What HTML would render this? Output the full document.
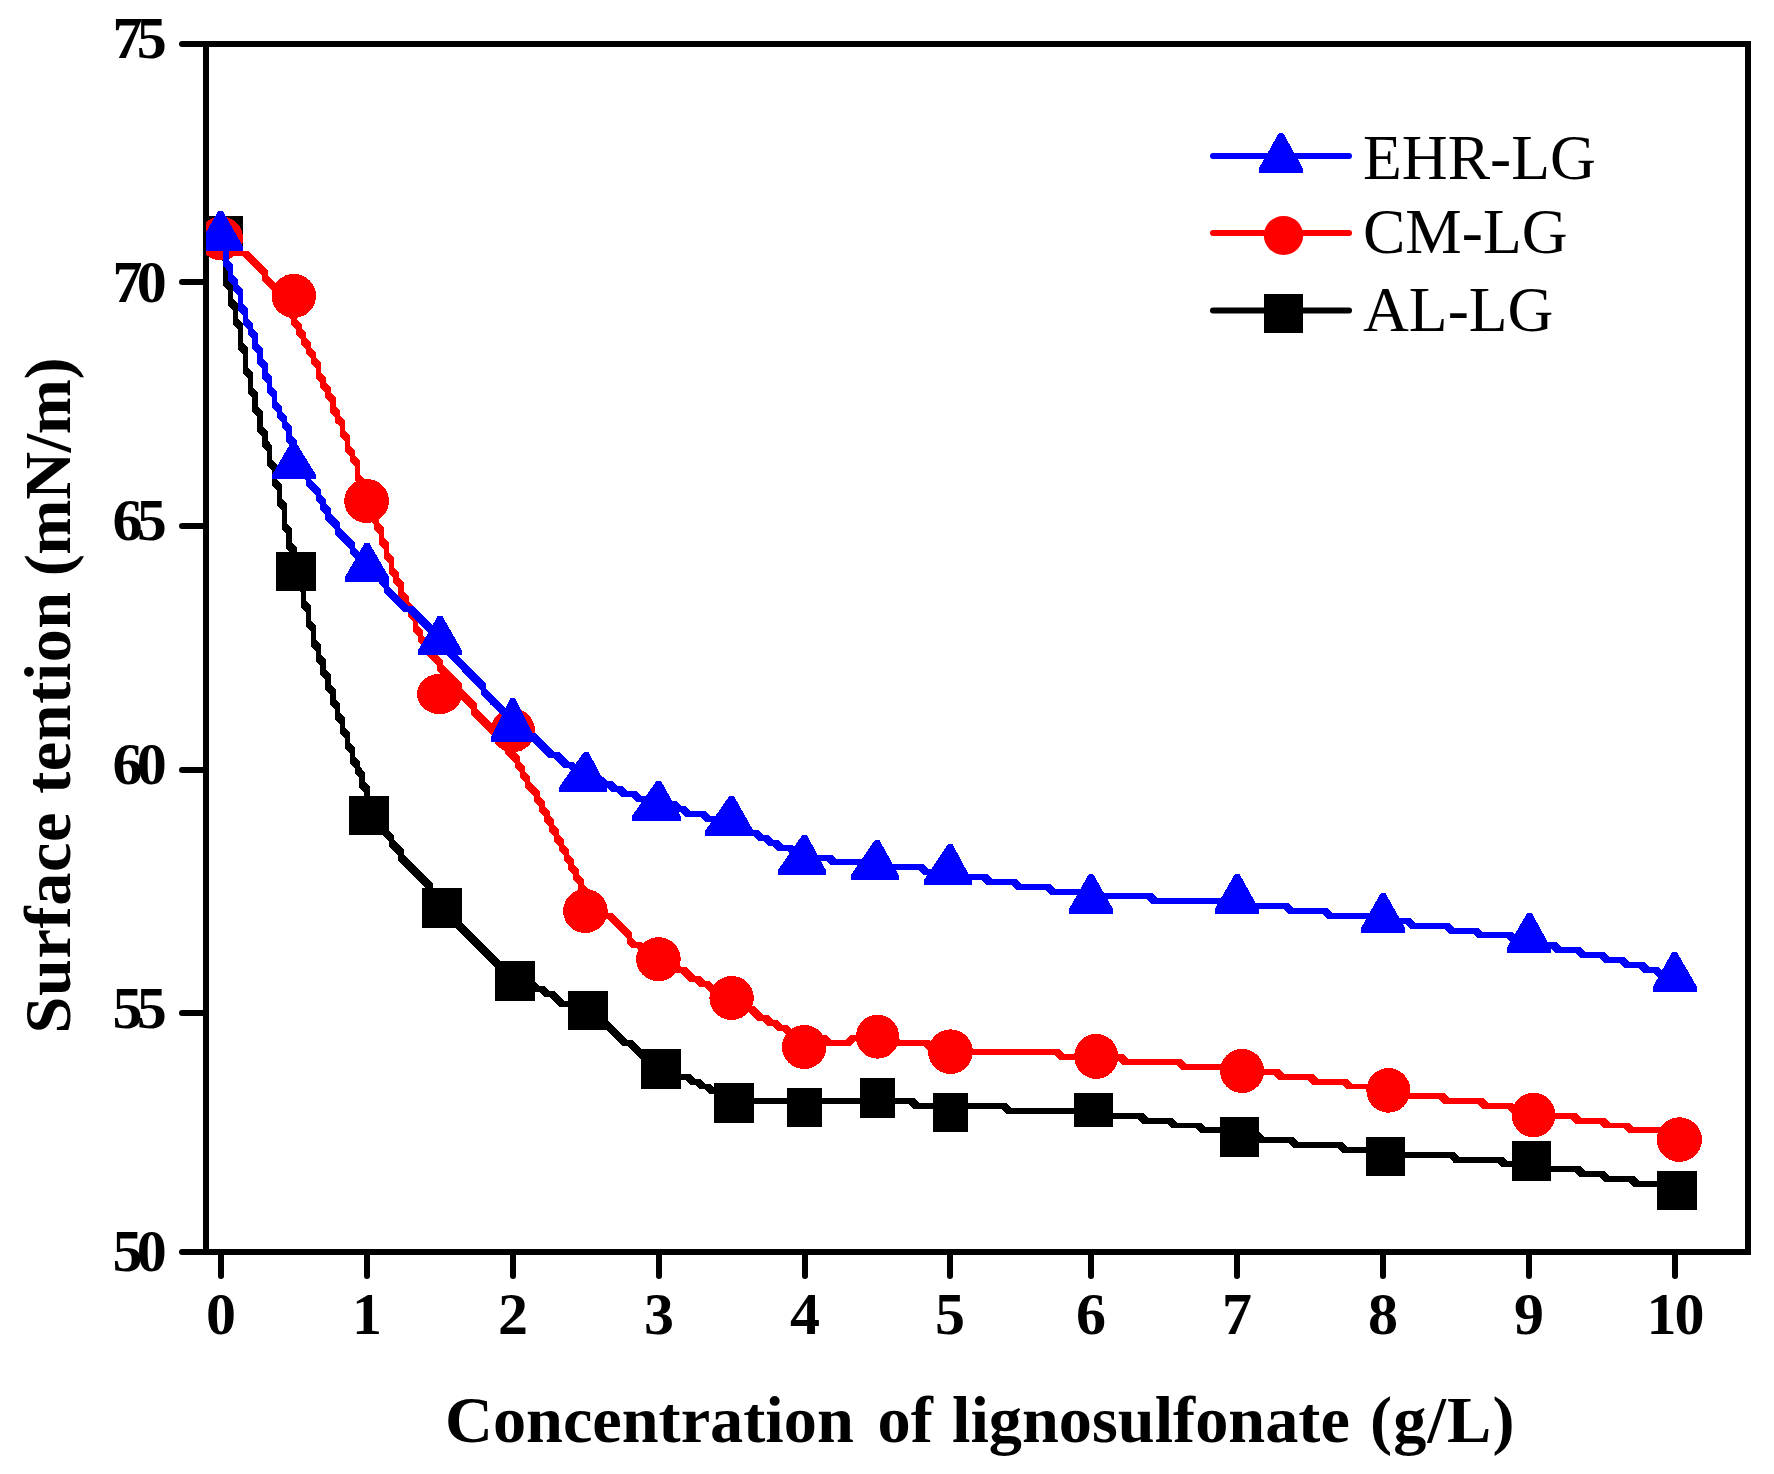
<!DOCTYPE html>
<html lang="en"><head><meta charset="utf-8"><title>Surface tension vs lignosulfonate concentration</title>
<style>
html,body{margin:0;padding:0;background:#fff;}
body{width:1774px;height:1474px;overflow:hidden;}
svg{display:block;}
text{font-family:"Liberation Serif",serif;fill:#000;}
.tk{font-weight:bold;font-size:60px;}
.ti{font-weight:bold;font-size:66.3px;}
.lg{font-size:63.5px;}
</style></head><body>
<svg width="1774" height="1474" viewBox="0 0 1774 1474">
<rect width="1774" height="1474" fill="#fff"/>
<defs><clipPath id="cp"><rect x="206" y="44" width="1542" height="1208"/></clipPath></defs>
<g shape-rendering="crispEdges" fill="#000">
<rect x="203" y="41" width="1548" height="6"/>
<rect x="203" y="1249" width="1548" height="6"/>
<rect x="203" y="41" width="6" height="1214"/>
<rect x="1745" y="41" width="6" height="1214"/>
</g>
<g stroke="#000" stroke-width="6" stroke-linecap="round">
<line x1="182" y1="44" x2="206" y2="44"/>
<line x1="182" y1="282" x2="206" y2="282"/>
<line x1="182" y1="526" x2="206" y2="526"/>
<line x1="182" y1="770" x2="206" y2="770"/>
<line x1="182" y1="1013" x2="206" y2="1013"/>
<line x1="182" y1="1252" x2="206" y2="1252"/>
<line x1="221" y1="1252" x2="221" y2="1276"/>
<line x1="367" y1="1252" x2="367" y2="1276"/>
<line x1="513" y1="1252" x2="513" y2="1276"/>
<line x1="659" y1="1252" x2="659" y2="1276"/>
<line x1="805" y1="1252" x2="805" y2="1276"/>
<line x1="950" y1="1252" x2="950" y2="1276"/>
<line x1="1091" y1="1252" x2="1091" y2="1276"/>
<line x1="1237" y1="1252" x2="1237" y2="1276"/>
<line x1="1383" y1="1252" x2="1383" y2="1276"/>
<line x1="1529" y1="1252" x2="1529" y2="1276"/>
<line x1="1675" y1="1252" x2="1675" y2="1276"/>
</g>
<g class="tk" text-anchor="end" letter-spacing="-5.8">
<text x="161" y="58.0">75</text>
<text x="161" y="301.5">70</text>
<text x="161" y="539.5">65</text>
<text x="161" y="783.5">60</text>
<text x="161" y="1027.5">55</text>
<text x="161" y="1271.0">50</text>
</g>
<g class="tk" text-anchor="middle">
<text x="221.0" y="1333.5">0</text>
<text x="367.0" y="1333.5">1</text>
<text x="513.0" y="1333.5">2</text>
<text x="659.0" y="1333.5">3</text>
<text x="805.0" y="1333.5">4</text>
<text x="950.0" y="1333.5">5</text>
<text x="1091.0" y="1333.5">6</text>
<text x="1237.0" y="1333.5">7</text>
<text x="1383.0" y="1333.5">8</text>
<text x="1529.0" y="1333.5">9</text>
<text x="1674.5" y="1333.5" letter-spacing="-2">10</text>
</g>
<text class="ti" y="1442"><tspan x="445" letter-spacing="0">Concentration</tspan> <tspan x="877.5" letter-spacing="0">of</tspan> <tspan x="952" letter-spacing="0">lignosulfonate</tspan> <tspan x="1370" letter-spacing="1.15">(g/L)</tspan></text>
<text class="ti" transform="translate(70.3 1033.5) rotate(-90)"><tspan x="0" letter-spacing="0.6">Surface</tspan> <tspan x="239.8" letter-spacing="0.5">tention</tspan> <tspan x="457.2" letter-spacing="-0.4">(mN/m)</tspan></text>
<g clip-path="url(#cp)" shape-rendering="crispEdges">
<path d="M218.3 235.9L223.7 235.9L223.7 256.4L218.3 256.4ZM218.3 250.6L223.7 250.6L228.6 255.4L228.6 261.2L223.2 261.2L218.3 256.4ZM223.2 255.4L228.6 255.4L228.6 285.6L223.2 285.6ZM223.2 279.8L228.6 279.8L233.4 284.7L233.4 290.6L228 290.6L223.2 285.6ZM228 284.7L233.4 284.7L233.4 305.1L228 305.1ZM228 299.2L233.4 299.2L238.3 304.1L238.3 309.9L232.9 309.9L228 305.1ZM232.9 304.1L238.3 304.1L238.3 324.6L232.9 324.6ZM232.9 318.7L238.3 318.7L243.2 323.6L243.2 329.4L237.8 329.4L232.9 324.6ZM237.8 323.6L243.2 323.6L243.2 348.9L237.8 348.9ZM237.8 343.1L243.2 343.1L248 347.9L248 353.8L242.6 353.8L237.8 348.9ZM242.6 347.9L248 347.9L248 373.3L242.6 373.3ZM242.6 367.4L248 367.4L252.9 372.2L252.9 378.1L247.5 378.1L242.6 373.3ZM247.5 372.2L252.9 372.2L252.9 392.8L247.5 392.8ZM247.5 386.9L252.9 386.9L257.7 391.8L257.7 397.6L252.3 397.6L247.5 392.8ZM252.3 391.8L257.7 391.8L257.7 412.2L252.3 412.2ZM252.3 406.4L257.7 406.4L262.6 411.2L262.6 417.1L257.2 417.1L252.3 412.2ZM257.2 411.2L262.6 411.2L262.6 431.8L257.2 431.8ZM257.2 425.9L262.6 425.9L267.5 430.8L267.5 436.6L262.1 436.6L257.2 431.8ZM262.1 430.8L267.5 430.8L267.5 446.3L262.1 446.3ZM262.1 440.4L267.5 440.4L272.3 445.4L272.3 451.2L266.9 451.2L262.1 446.3ZM266.9 445.4L272.3 445.4L272.3 465.8L266.9 465.8ZM266.9 459.9L272.3 459.9L277.2 464.9L277.2 470.8L271.8 470.8L266.9 465.8ZM271.8 464.9L277.2 464.9L277.2 485.3L271.8 485.3ZM271.8 479.4L277.2 479.4L282.1 484.4L282.1 490.2L276.7 490.2L271.8 485.3ZM276.7 484.4L282.1 484.4L282.1 504.8L276.7 504.8ZM276.7 498.9L282.1 498.9L286.9 503.8L286.9 509.6L281.5 509.6L276.7 504.8ZM281.5 503.8L286.9 503.8L286.9 529.2L281.5 529.2ZM281.5 523.2L286.9 523.2L291.8 528.1L291.8 534.1L286.4 534.1L281.5 529.2ZM286.4 528.1L291.8 528.1L291.8 548.7L286.4 548.7ZM286.4 542.8L291.8 542.8L296.6 547.6L296.6 553.6L291.2 553.6L286.4 548.7ZM291.2 547.6L296.6 547.6L296.6 573.1L291.2 573.1ZM291.2 567.1L296.6 567.1L301.5 571.9L301.5 577.9L296.1 577.9L291.2 573.1ZM296.1 571.9L301.5 571.9L301.5 587.7L296.1 587.7ZM296.1 581.8L301.5 581.8L306.4 586.6L306.4 592.6L301 592.6L296.1 587.7ZM301 586.6L306.4 586.6L306.4 607.2L301 607.2ZM301 601.2L306.4 601.2L311.2 606L311.2 612L305.8 612L301 607.2ZM305.8 606L311.2 606L311.2 626.6L305.8 626.6ZM305.8 620.6L311.2 620.6L316.1 625.5L316.1 631.5L310.7 631.5L305.8 626.6ZM310.7 625.5L316.1 625.5L316.1 646.1L310.7 646.1ZM310.7 640.1L316.1 640.1L321 645L321 651L315.6 651L310.7 646.1ZM315.6 645L321 645L321 660.7L315.6 660.7ZM315.6 654.8L321 654.8L325.8 659.6L325.8 665.6L320.4 665.6L315.6 660.7ZM320.4 659.6L325.8 659.6L325.8 675.4L320.4 675.4ZM320.4 669.4L325.8 669.4L330.7 674.2L330.7 680.2L325.3 680.2L320.4 675.4ZM325.3 674.2L330.7 674.2L330.7 690L325.3 690ZM325.3 684L330.7 684L335.5 688.8L335.5 694.8L330.1 694.8L325.3 690ZM330.1 688.8L335.5 688.8L335.5 704.6L330.1 704.6ZM330.1 698.6L335.5 698.6L340.4 703.5L340.4 709.5L335 709.5L330.1 704.6ZM335 703.5L340.4 703.5L340.4 719.2L335 719.2ZM335 713.2L340.4 713.2L345.3 718.1L345.3 724.1L339.9 724.1L335 719.2ZM339.9 718.1L345.3 718.1L345.3 733.8L339.9 733.8ZM339.9 727.8L345.3 727.8L350.1 732.8L350.1 738.7L344.7 738.7L339.9 733.8ZM344.7 732.8L350.1 732.8L350.1 748.4L344.7 748.4ZM344.7 742.4L350.1 742.4L355 747.3L355 753.2L349.6 753.2L344.7 748.4ZM349.6 747.3L355 747.3L355 763L349.6 763ZM349.6 757L355 757L359.9 761.9L359.9 767.9L354.5 767.9L349.6 763ZM354.5 761.9L359.9 761.9L359.9 772.8L354.5 772.8ZM354.5 766.8L359.9 766.8L364.7 771.8L364.7 777.7L359.3 777.7L354.5 772.8ZM359.3 771.8L364.7 771.8L364.7 787.4L359.3 787.4ZM359.3 781.4L364.7 781.4L369.6 786.3L369.6 792.2L364.2 792.2L359.3 787.4ZM364.2 786.3L369.6 786.3L369.6 802L364.2 802ZM364.2 796L369.6 796L374.5 800.9L374.5 806.9L369.1 806.9L364.2 802ZM369.1 800.9L374.5 800.9L374.5 816.6L369.1 816.6ZM369.1 810.6L374.5 810.6L379.3 815.5L379.3 821.5L373.9 821.5L369.1 816.6ZM373.9 815.5L379.3 815.5L379.3 826.4L373.9 826.4ZM373.9 820.4L379.3 820.4L384.2 825.2L384.2 831.2L378.8 831.2L373.9 826.4ZM378.8 825.2L384.2 825.2L389 830.1L389 836.1L383.6 836.1L378.8 831.2ZM383.6 830.1L389 830.1L393.9 835L393.9 841L388.5 841L383.6 836.1ZM388.5 835L393.9 835L393.9 845.8L388.5 845.8ZM388.5 839.8L393.9 839.8L398.8 844.8L398.8 850.7L393.4 850.7L388.5 845.8ZM393.4 844.8L398.8 844.8L403.6 849.6L403.6 855.6L398.2 855.6L393.4 850.7ZM398.2 849.6L403.6 849.6L403.6 860.5L398.2 860.5ZM398.2 854.5L403.6 854.5L408.5 859.3L408.5 865.2L403.1 865.2L398.2 860.5ZM403.1 859.3L408.5 859.3L413.4 864.2L413.4 870.2L408 870.2L403.1 865.2ZM408 864.2L413.4 864.2L418.2 869.1L418.2 875.1L412.8 875.1L408 870.2ZM412.8 869.1L418.2 869.1L423.1 873.9L423.1 879.9L417.7 879.9L412.8 875.1ZM417.7 873.9L423.1 873.9L427.9 878.8L427.9 884.8L422.5 884.8L417.7 879.9ZM422.5 878.8L427.9 878.8L432.8 883.8L432.8 889.7L427.4 889.7L422.5 884.8ZM427.4 883.8L432.8 883.8L432.8 894.6L427.4 894.6ZM427.4 888.6L432.8 888.6L437.7 893.4L437.7 899.4L432.3 899.4L427.4 894.6ZM432.3 893.4L437.7 893.4L437.7 904.2L432.3 904.2ZM432.3 898.3L437.7 898.3L442.5 903.2L442.5 909.2L437.1 909.2L432.3 904.2ZM437.1 903.2L442.5 903.2L447.4 908L447.4 914L442 914L437.1 909.2ZM442 908L447.4 908L452.3 912.9L452.3 918.9L446.9 918.9L442 914ZM446.9 912.9L452.3 912.9L457.1 917.8L457.1 923.8L451.7 923.8L446.9 918.9ZM451.7 917.8L457.1 917.8L462 922.8L462 928.7L456.6 928.7L451.7 923.8ZM456.6 922.8L462 922.8L466.9 927.5L466.9 933.5L461.5 933.5L456.6 928.7ZM461.5 927.5L466.9 927.5L471.7 932.4L471.7 938.4L466.3 938.4L461.5 933.5ZM466.3 932.4L471.7 932.4L505.8 966.5L505.8 972.5L500.4 972.5L466.3 938.4ZM500.4 966.5L505.8 966.5L510.6 971.4L510.6 977.4L505.2 977.4L500.4 972.5ZM505.2 971.4L510.6 971.4L515.5 976.2L515.5 982.2L510.1 982.2L505.2 977.4ZM510.1 976.2L520.3 976.2L520.3 982.2L510.1 982.2ZM514.9 976.2L520.3 976.2L525.2 981.1L525.2 987.1L519.8 987.1L514.9 982.2ZM519.8 981.1L534.9 981.1L534.9 987.1L519.8 987.1ZM529.5 981.1L534.9 981.1L539.8 986L539.8 992L534.4 992L529.5 987.1ZM534.4 986L544.7 986L544.7 992L534.4 992ZM539.3 986L544.7 986L549.5 990.8L549.5 996.8L544.1 996.8L539.3 992ZM544.1 990.8L554.4 990.8L554.4 996.8L544.1 996.8ZM549 990.8L554.4 990.8L559.2 995.8L559.2 1001.7L553.8 1001.7L549 996.8ZM553.8 995.8L559.2 995.8L564.1 1000.6L564.1 1006.6L558.7 1006.6L553.8 1001.7ZM558.7 1000.6L573.8 1000.6L573.8 1006.6L558.7 1006.6ZM568.4 1000.6L573.8 1000.6L578.7 1005.5L578.7 1011.5L573.3 1011.5L568.4 1006.6ZM573.3 1005.5L588.4 1005.5L588.4 1011.5L573.3 1011.5ZM583 1005.5L588.4 1005.5L593.3 1010.3L593.3 1016.2L587.9 1016.2L583 1011.5ZM587.9 1010.3L593.3 1010.3L598.2 1015.2L598.2 1021.2L592.8 1021.2L587.9 1016.2ZM592.8 1015.2L598.2 1015.2L603 1020.1L603 1026L597.6 1026L592.8 1021.2ZM597.6 1020.1L607.9 1020.1L607.9 1026L597.6 1026ZM602.5 1020.1L607.9 1020.1L622.5 1034.8L622.5 1040.7L617.1 1040.7L602.5 1026ZM617.1 1034.8L622.5 1034.8L627.3 1039.6L627.3 1045.5L621.9 1045.5L617.1 1040.7ZM621.9 1039.6L632.2 1039.6L632.2 1045.5L621.9 1045.5ZM626.8 1039.6L632.2 1039.6L637.1 1044.5L637.1 1050.4L631.7 1050.4L626.8 1045.5ZM631.7 1044.5L637.1 1044.5L641.9 1049.3L641.9 1055.2L636.5 1055.2L631.7 1050.4ZM636.5 1049.3L641.9 1049.3L646.8 1054.2L646.8 1060.2L641.4 1060.2L636.5 1055.2ZM641.4 1054.2L651.6 1054.2L651.6 1060.2L641.4 1060.2ZM646.2 1054.2L651.6 1054.2L656.5 1059L656.5 1065L651.1 1065L646.2 1060.2ZM651.1 1059L656.5 1059L661.4 1064L661.4 1069.9L656 1069.9L651.1 1065ZM656 1064L661.4 1064L666.2 1068.8L666.2 1074.8L660.8 1074.8L656 1069.9ZM660.8 1068.8L676 1068.8L676 1074.8L660.8 1074.8ZM670.6 1068.8L676 1068.8L680.8 1073.8L680.8 1079.7L675.4 1079.7L670.6 1074.8ZM675.4 1073.8L690.5 1073.8L690.5 1079.7L675.4 1079.7ZM685.1 1073.8L690.5 1073.8L695.4 1078.5L695.4 1084.5L690 1084.5L685.1 1079.7ZM690 1078.5L700.3 1078.5L700.3 1084.5L690 1084.5ZM694.9 1078.5L700.3 1078.5L705.1 1083.5L705.1 1089.4L699.7 1089.4L694.9 1084.5ZM699.7 1083.5L710 1083.5L710 1089.4L699.7 1089.4ZM704.6 1083.5L710 1083.5L714.9 1088.3L714.9 1094.2L709.5 1094.2L704.6 1089.4ZM709.5 1088.3L719.7 1088.3L719.7 1094.2L709.5 1094.2ZM714.3 1088.3L719.7 1088.3L724.6 1093.1L724.6 1099L719.2 1099L714.3 1094.2ZM719.2 1093.1L734.3 1093.1L734.3 1099L719.2 1099ZM728.9 1093.1L734.3 1093.1L739.2 1098L739.2 1104L733.8 1104L728.9 1099ZM733.8 1098L914.2 1098L914.2 1104L733.8 1104ZM908.8 1098L914.2 1098L919.1 1103L919.1 1108.9L913.7 1108.9L908.8 1104ZM913.7 1103L1006.6 1103L1006.6 1108.9L913.7 1108.9ZM1001.2 1103L1006.6 1103L1011.5 1107.8L1011.5 1113.7L1006.1 1113.7L1001.2 1108.9ZM1006.1 1107.8L1103.9 1107.8L1103.9 1113.7L1006.1 1113.7ZM1098.5 1107.8L1103.9 1107.8L1108.8 1112.6L1108.8 1118.5L1103.4 1118.5L1098.5 1113.7ZM1103.4 1112.6L1142.8 1112.6L1142.8 1118.5L1103.4 1118.5ZM1137.4 1112.6L1142.8 1112.6L1147.7 1117.5L1147.7 1123.5L1142.3 1123.5L1137.4 1118.5ZM1142.3 1117.5L1172 1117.5L1172 1123.5L1142.3 1123.5ZM1166.6 1117.5L1172 1117.5L1176.8 1122.5L1176.8 1128.4L1171.4 1128.4L1166.6 1123.5ZM1171.4 1122.5L1201.2 1122.5L1201.2 1128.4L1171.4 1128.4ZM1195.8 1122.5L1201.2 1122.5L1206 1127.2L1206 1133.2L1200.6 1133.2L1195.8 1128.4ZM1200.6 1127.2L1225.5 1127.2L1225.5 1133.2L1200.6 1133.2ZM1220.1 1127.2L1225.5 1127.2L1230.3 1132.1L1230.3 1138L1224.9 1138L1220.1 1133.2ZM1224.9 1132.1L1259.5 1132.1L1259.5 1138L1224.9 1138ZM1254.1 1132.1L1259.5 1132.1L1264.4 1137L1264.4 1143L1259 1143L1254.1 1138ZM1259 1137L1293.6 1137L1293.6 1143L1259 1143ZM1288.2 1137L1293.6 1137L1298.4 1141.8L1298.4 1147.8L1293 1147.8L1288.2 1143ZM1293 1141.8L1342.2 1141.8L1342.2 1147.8L1293 1147.8ZM1336.8 1141.8L1342.2 1141.8L1347.1 1146.8L1347.1 1152.7L1341.7 1152.7L1336.8 1147.8ZM1341.7 1146.8L1390.8 1146.8L1390.8 1152.7L1341.7 1152.7ZM1385.4 1146.8L1390.8 1146.8L1395.7 1151.6L1395.7 1157.5L1390.3 1157.5L1385.4 1152.7ZM1390.3 1151.6L1454 1151.6L1454 1157.5L1390.3 1157.5ZM1448.6 1151.6L1454 1151.6L1458.9 1156.5L1458.9 1162.5L1453.5 1162.5L1448.6 1157.5ZM1453.5 1156.5L1502.7 1156.5L1502.7 1162.5L1453.5 1162.5ZM1497.3 1156.5L1502.7 1156.5L1507.5 1161.3L1507.5 1167.2L1502.1 1167.2L1497.3 1162.5ZM1502.1 1161.3L1531.8 1161.3L1531.8 1167.2L1502.1 1167.2ZM1526.4 1161.3L1531.8 1161.3L1536.7 1166.2L1536.7 1172.2L1531.3 1172.2L1526.4 1167.2ZM1531.3 1166.2L1580.5 1166.2L1580.5 1172.2L1531.3 1172.2ZM1575.1 1166.2L1580.5 1166.2L1585.3 1171.1L1585.3 1177L1579.9 1177L1575.1 1172.2ZM1579.9 1171.1L1604.8 1171.1L1604.8 1177L1579.9 1177ZM1599.4 1171.1L1604.8 1171.1L1609.7 1176L1609.7 1181.9L1604.3 1181.9L1599.4 1177ZM1604.3 1176L1634 1176L1634 1181.9L1604.3 1181.9ZM1628.6 1176L1634 1176L1638.8 1180.8L1638.8 1186.8L1633.4 1186.8L1628.6 1181.9ZM1633.4 1180.8L1663.1 1180.8L1663.1 1186.8L1633.4 1186.8ZM1657.7 1180.8L1663.1 1180.8L1668 1185.8L1668 1191.7L1662.6 1191.7L1657.7 1186.8ZM1662.6 1185.8L1677.7 1185.8L1677.7 1191.7L1662.6 1191.7Z" fill="#000"/>
<g fill="#000" shape-rendering="crispEdges">
<rect x="203" y="216" width="40" height="40"/>
<rect x="276" y="552" width="40" height="39"/>
<rect x="349" y="796" width="40" height="39"/>
<rect x="422" y="888" width="40" height="40"/>
<rect x="495" y="961" width="40" height="40"/>
<rect x="568" y="991" width="40" height="39"/>
<rect x="641" y="1049" width="40" height="40"/>
<rect x="714" y="1083" width="40" height="40"/>
<rect x="787" y="1088" width="35" height="39"/>
<rect x="860" y="1078" width="35" height="40"/>
<rect x="933" y="1093" width="35" height="39"/>
<rect x="1074" y="1093" width="39" height="34"/>
<rect x="1220" y="1117" width="39" height="40"/>
<rect x="1366" y="1137" width="39" height="39"/>
<rect x="1512" y="1141" width="39" height="40"/>
<rect x="1657" y="1171" width="40" height="39"/>
</g>
<path d="M218.3 235.9L223.7 235.9L228.6 240.8L228.6 246.6L223.2 246.6L218.3 241.8ZM223.2 240.8L228.6 240.8L233.4 245.7L233.4 251.5L228 251.5L223.2 246.6ZM228 245.7L233.4 245.7L238.3 250.6L238.3 256.4L232.9 256.4L228 251.5ZM232.9 250.6L248 250.6L248 256.4L232.9 256.4ZM242.6 250.6L248 250.6L252.9 255.4L252.9 261.2L247.5 261.2L242.6 256.4ZM247.5 255.4L252.9 255.4L257.7 260.2L257.7 266.1L252.3 266.1L247.5 261.2ZM252.3 260.2L257.7 260.2L262.6 265.2L262.6 271.1L257.2 271.1L252.3 266.1ZM257.2 265.2L262.6 265.2L267.5 269.9L267.5 275.8L262.1 275.8L257.2 271.1ZM262.1 269.9L267.5 269.9L267.5 280.8L262.1 280.8ZM262.1 274.9L267.5 274.9L272.3 279.8L272.3 285.6L266.9 285.6L262.1 280.8ZM266.9 279.8L272.3 279.8L282.1 289.4L282.1 295.3L276.7 295.3L266.9 285.6ZM276.7 289.4L282.1 289.4L286.9 294.4L286.9 300.2L281.5 300.2L276.7 295.3ZM281.5 294.4L286.9 294.4L291.8 299.2L291.8 305.1L286.4 305.1L281.5 300.2ZM286.4 299.2L291.8 299.2L291.8 314.8L286.4 314.8ZM286.4 308.9L291.8 308.9L296.6 313.9L296.6 319.8L291.2 319.8L286.4 314.8ZM291.2 313.9L296.6 313.9L296.6 324.6L291.2 324.6ZM291.2 318.7L296.6 318.7L301.5 323.6L301.5 329.4L296.1 329.4L291.2 324.6ZM296.1 323.6L301.5 323.6L301.5 334.3L296.1 334.3ZM296.1 328.4L301.5 328.4L306.4 333.4L306.4 339.2L301 339.2L296.1 334.3ZM301 333.4L306.4 333.4L306.4 344.1L301 344.1ZM301 338.2L306.4 338.2L311.2 343.1L311.2 348.9L305.8 348.9L301 344.1ZM305.8 343.1L311.2 343.1L311.2 353.8L305.8 353.8ZM305.8 347.9L311.2 347.9L316.1 352.8L316.1 358.6L310.7 358.6L305.8 353.8ZM310.7 352.8L316.1 352.8L316.1 363.6L310.7 363.6ZM310.7 357.7L316.1 357.7L321 362.6L321 368.4L315.6 368.4L310.7 363.6ZM315.6 362.6L321 362.6L321 378.1L315.6 378.1ZM315.6 372.2L321 372.2L325.8 377.2L325.8 383.1L320.4 383.1L315.6 378.1ZM320.4 377.2L325.8 377.2L325.8 387.9L320.4 387.9ZM320.4 382.1L325.8 382.1L330.7 386.9L330.7 392.8L325.3 392.8L320.4 387.9ZM325.3 386.9L330.7 386.9L330.7 397.6L325.3 397.6ZM325.3 391.8L330.7 391.8L335.5 396.7L335.5 402.6L330.1 402.6L325.3 397.6ZM330.1 396.7L335.5 396.7L335.5 412.2L330.1 412.2ZM330.1 406.4L335.5 406.4L340.4 411.2L340.4 417.1L335 417.1L330.1 412.2ZM335 411.2L340.4 411.2L340.4 422.1L335 422.1ZM335 416.2L340.4 416.2L345.3 420.9L345.3 426.8L339.9 426.8L335 422.1ZM339.9 420.9L345.3 420.9L345.3 436.6L339.9 436.6ZM339.9 430.8L345.3 430.8L350.1 435.7L350.1 441.6L344.7 441.6L339.9 436.6ZM344.7 435.7L350.1 435.7L350.1 451.2L344.7 451.2ZM344.7 445.4L350.1 445.4L355 450.2L355 456.1L349.6 456.1L344.7 451.2ZM349.6 450.2L355 450.2L355 460.9L349.6 460.9ZM349.6 455.1L355 455.1L359.9 459.9L359.9 465.8L354.5 465.8L349.6 460.9ZM354.5 459.9L359.9 459.9L359.9 480.4L354.5 480.4ZM354.5 474.6L359.9 474.6L364.7 479.4L364.7 485.3L359.3 485.3L354.5 480.4ZM359.3 479.4L364.7 479.4L364.7 495.1L359.3 495.1ZM359.3 489.2L364.7 489.2L369.6 494.1L369.6 499.9L364.2 499.9L359.3 495.1ZM364.2 494.1L369.6 494.1L369.6 509.6L364.2 509.6ZM364.2 503.8L369.6 503.8L374.5 508.7L374.5 514.6L369.1 514.6L364.2 509.6ZM369.1 508.7L374.5 508.7L374.5 519.5L369.1 519.5ZM369.1 513.5L374.5 513.5L379.3 518.4L379.3 524.4L373.9 524.4L369.1 519.5ZM373.9 518.4L379.3 518.4L379.3 529.2L373.9 529.2ZM373.9 523.2L379.3 523.2L384.2 528.1L384.2 534.1L378.8 534.1L373.9 529.2ZM378.8 528.1L384.2 528.1L384.2 543.8L378.8 543.8ZM378.8 537.8L384.2 537.8L389 542.8L389 548.7L383.6 548.7L378.8 543.8ZM383.6 542.8L389 542.8L389 558.5L383.6 558.5ZM383.6 552.5L389 552.5L393.9 557.3L393.9 563.2L388.5 563.2L383.6 558.5ZM388.5 557.3L393.9 557.3L393.9 573.1L388.5 573.1ZM388.5 567.1L393.9 567.1L398.8 571.9L398.8 577.9L393.4 577.9L388.5 573.1ZM393.4 571.9L398.8 571.9L398.8 582.8L393.4 582.8ZM393.4 576.8L398.8 576.8L403.6 581.8L403.6 587.7L398.2 587.7L393.4 582.8ZM398.2 581.8L403.6 581.8L403.6 597.4L398.2 597.4ZM398.2 591.4L403.6 591.4L408.5 596.3L408.5 602.2L403.1 602.2L398.2 597.4ZM403.1 596.3L408.5 596.3L408.5 607.2L403.1 607.2ZM403.1 601.2L408.5 601.2L413.4 606L413.4 612L408 612L403.1 607.2ZM408 606L413.4 606L413.4 616.9L408 616.9ZM408 610.9L413.4 610.9L418.2 615.8L418.2 621.8L412.8 621.8L408 616.9ZM412.8 615.8L418.2 615.8L418.2 631.5L412.8 631.5ZM412.8 625.5L418.2 625.5L423.1 630.4L423.1 636.4L417.7 636.4L412.8 631.5ZM417.7 630.4L423.1 630.4L423.1 641.2L417.7 641.2ZM417.7 635.3L423.1 635.3L432.8 645L432.8 651L427.4 651L417.7 641.2ZM427.4 645L432.8 645L432.8 655.9L427.4 655.9ZM427.4 649.9L432.8 649.9L437.7 654.8L437.7 660.7L432.3 660.7L427.4 655.9ZM432.3 654.8L437.7 654.8L442.5 659.6L442.5 665.6L437.1 665.6L432.3 660.7ZM437.1 659.6L442.5 659.6L442.5 670.5L437.1 670.5ZM437.1 664.5L442.5 664.5L447.4 669.4L447.4 675.4L442 675.4L437.1 670.5ZM442 669.4L447.4 669.4L452.3 674.2L452.3 680.2L446.9 680.2L442 675.4ZM446.9 674.2L452.3 674.2L457.1 679.1L457.1 685.1L451.7 685.1L446.9 680.2ZM451.7 679.1L457.1 679.1L462 684L462 690L456.6 690L451.7 685.1ZM456.6 684L462 684L462 694.8L456.6 694.8ZM456.6 688.8L462 688.8L466.9 693.8L466.9 699.7L461.5 699.7L456.6 694.8ZM461.5 693.8L466.9 693.8L471.7 698.6L471.7 704.6L466.3 704.6L461.5 699.7ZM466.3 698.6L471.7 698.6L476.6 703.5L476.6 709.5L471.2 709.5L466.3 704.6ZM471.2 703.5L476.6 703.5L476.6 714.2L471.2 714.2ZM471.2 708.3L476.6 708.3L481.4 713.2L481.4 719.2L476 719.2L471.2 714.2ZM476 713.2L481.4 713.2L486.3 718.1L486.3 724.1L480.9 724.1L476 719.2ZM480.9 718.1L486.3 718.1L491.2 722.9L491.2 728.9L485.8 728.9L480.9 724.1ZM485.8 722.9L491.2 722.9L496 727.8L496 733.8L490.6 733.8L485.8 728.9ZM490.6 727.8L496 727.8L510.6 742.4L510.6 748.4L505.2 748.4L490.6 733.8ZM505.2 742.4L510.6 742.4L510.6 753.2L505.2 753.2ZM505.2 747.3L510.6 747.3L520.3 757L520.3 763L514.9 763L505.2 753.2ZM514.9 757L520.3 757L520.3 767.9L514.9 767.9ZM514.9 761.9L520.3 761.9L525.2 766.8L525.2 772.8L519.8 772.8L514.9 767.9ZM519.8 766.8L525.2 766.8L525.2 777.7L519.8 777.7ZM519.8 771.8L525.2 771.8L530.1 776.5L530.1 782.5L524.7 782.5L519.8 777.7ZM524.7 776.5L530.1 776.5L530.1 787.4L524.7 787.4ZM524.7 781.4L530.1 781.4L534.9 786.3L534.9 792.2L529.5 792.2L524.7 787.4ZM529.5 786.3L534.9 786.3L539.8 791.1L539.8 797.1L534.4 797.1L529.5 792.2ZM534.4 791.1L539.8 791.1L539.8 802L534.4 802ZM534.4 796L539.8 796L544.7 800.9L544.7 806.9L539.3 806.9L534.4 802ZM539.3 800.9L544.7 800.9L544.7 811.7L539.3 811.7ZM539.3 805.8L544.7 805.8L549.5 810.6L549.5 816.6L544.1 816.6L539.3 811.7ZM544.1 810.6L549.5 810.6L549.5 821.5L544.1 821.5ZM544.1 815.5L549.5 815.5L554.4 820.4L554.4 826.4L549 826.4L544.1 821.5ZM549 820.4L554.4 820.4L554.4 831.2L549 831.2ZM549 825.2L554.4 825.2L559.2 830.1L559.2 836.1L553.8 836.1L549 831.2ZM553.8 830.1L559.2 830.1L559.2 841L553.8 841ZM553.8 835L559.2 835L564.1 839.8L564.1 845.8L558.7 845.8L553.8 841ZM558.7 839.8L564.1 839.8L564.1 850.7L558.7 850.7ZM558.7 844.8L564.1 844.8L569 849.6L569 855.6L563.6 855.6L558.7 850.7ZM563.6 849.6L569 849.6L569 860.5L563.6 860.5ZM563.6 854.5L569 854.5L573.8 859.3L573.8 865.2L568.4 865.2L563.6 860.5ZM568.4 859.3L573.8 859.3L573.8 870.2L568.4 870.2ZM568.4 864.2L573.8 864.2L578.7 869.1L578.7 875.1L573.3 875.1L568.4 870.2ZM573.3 869.1L578.7 869.1L578.7 879.9L573.3 879.9ZM573.3 873.9L578.7 873.9L583.6 878.8L583.6 884.8L578.2 884.8L573.3 879.9ZM578.2 878.8L583.6 878.8L583.6 889.7L578.2 889.7ZM578.2 883.8L583.6 883.8L588.4 888.6L588.4 894.6L583 894.6L578.2 889.7ZM583 888.6L588.4 888.6L588.4 899.4L583 899.4ZM583 893.4L588.4 893.4L607.9 912.9L607.9 918.9L602.5 918.9L583 899.4ZM602.5 912.9L612.7 912.9L612.7 918.9L602.5 918.9ZM607.3 912.9L612.7 912.9L632.2 932.4L632.2 938.4L626.8 938.4L607.3 918.9ZM626.8 932.4L632.2 932.4L632.2 943.2L626.8 943.2ZM626.8 937.3L632.2 937.3L637.1 942.1L637.1 948.1L631.7 948.1L626.8 943.2ZM631.7 942.1L641.9 942.1L641.9 948.1L631.7 948.1ZM636.5 942.1L641.9 942.1L646.8 947L646.8 953L641.4 953L636.5 948.1ZM641.4 947L646.8 947L651.6 951.9L651.6 957.9L646.2 957.9L641.4 953ZM646.2 951.9L656.5 951.9L656.5 957.9L646.2 957.9ZM651.1 951.9L656.5 951.9L661.4 956.8L661.4 962.7L656 962.7L651.1 957.9ZM656 956.8L666.2 956.8L666.2 962.7L656 962.7ZM660.8 956.8L666.2 956.8L671.1 961.6L671.1 967.6L665.7 967.6L660.8 962.7ZM665.7 961.6L676 961.6L676 967.6L665.7 967.6ZM670.6 961.6L676 961.6L680.8 966.5L680.8 972.5L675.4 972.5L670.6 967.6ZM675.4 966.5L685.7 966.5L685.7 972.5L675.4 972.5ZM680.3 966.5L685.7 966.5L690.5 971.4L690.5 977.4L685.1 977.4L680.3 972.5ZM685.1 971.4L690.5 971.4L695.4 976.2L695.4 982.2L690 982.2L685.1 977.4ZM690 976.2L700.3 976.2L700.3 982.2L690 982.2ZM694.9 976.2L700.3 976.2L705.1 981.1L705.1 987.1L699.7 987.1L694.9 982.2ZM699.7 981.1L710 981.1L710 987.1L699.7 987.1ZM704.6 981.1L710 981.1L714.9 986L714.9 992L709.5 992L704.6 987.1ZM709.5 986L719.7 986L719.7 992L709.5 992ZM714.3 986L719.7 986L724.6 990.8L724.6 996.8L719.2 996.8L714.3 992ZM719.2 990.8L724.6 990.8L729.5 995.8L729.5 1001.7L724.1 1001.7L719.2 996.8ZM724.1 995.8L734.3 995.8L734.3 1001.7L724.1 1001.7ZM728.9 995.8L734.3 995.8L739.2 1000.6L739.2 1006.6L733.8 1006.6L728.9 1001.7ZM733.8 1000.6L744 1000.6L744 1006.6L733.8 1006.6ZM738.6 1000.6L744 1000.6L748.9 1005.5L748.9 1011.5L743.5 1011.5L738.6 1006.6ZM743.5 1005.5L753.8 1005.5L753.8 1011.5L743.5 1011.5ZM748.4 1005.5L753.8 1005.5L763.5 1015.2L763.5 1021.2L758.1 1021.2L748.4 1011.5ZM758.1 1015.2L768.4 1015.2L768.4 1021.2L758.1 1021.2ZM763 1015.2L768.4 1015.2L773.2 1020.1L773.2 1026L767.8 1026L763 1021.2ZM767.8 1020.1L778.1 1020.1L778.1 1026L767.8 1026ZM772.7 1020.1L778.1 1020.1L782.9 1025L782.9 1030.9L777.5 1030.9L772.7 1026ZM777.5 1025L787.8 1025L787.8 1030.9L777.5 1030.9ZM782.4 1025L787.8 1025L792.7 1029.8L792.7 1035.8L787.3 1035.8L782.4 1030.9ZM787.3 1029.8L802.4 1029.8L802.4 1035.8L787.3 1035.8ZM797 1029.8L802.4 1029.8L807.3 1034.8L807.3 1040.7L801.9 1040.7L797 1035.8ZM801.9 1034.8L826.7 1034.8L826.7 1040.7L801.9 1040.7ZM821.3 1034.8L826.7 1034.8L831.6 1039.6L831.6 1045.5L826.2 1045.5L821.3 1040.7ZM826.2 1039.6L851 1039.6L851 1045.5L826.2 1045.5ZM845.6 1039.6L850.5 1034.8L855.9 1034.8L855.9 1040.7L851 1045.5L845.6 1045.5ZM850.5 1034.8L894.8 1034.8L894.8 1040.7L850.5 1040.7ZM889.4 1034.8L894.8 1034.8L899.7 1039.6L899.7 1045.5L894.3 1045.5L889.4 1040.7ZM894.3 1039.6L928.8 1039.6L928.8 1045.5L894.3 1045.5ZM923.4 1039.6L928.8 1039.6L933.7 1044.5L933.7 1050.4L928.3 1050.4L923.4 1045.5ZM928.3 1044.5L948.3 1044.5L948.3 1050.4L928.3 1050.4ZM942.9 1044.5L948.3 1044.5L953.2 1049.3L953.2 1055.2L947.8 1055.2L942.9 1050.4ZM947.8 1049.3L1060.1 1049.3L1060.1 1055.2L947.8 1055.2ZM1054.7 1049.3L1060.1 1049.3L1065 1054.2L1065 1060.2L1059.6 1060.2L1054.7 1055.2ZM1059.6 1054.2L1123.4 1054.2L1123.4 1060.2L1059.6 1060.2ZM1118 1054.2L1123.4 1054.2L1128.2 1059L1128.2 1065L1122.8 1065L1118 1060.2ZM1122.8 1059L1181.7 1059L1181.7 1065L1122.8 1065ZM1176.3 1059L1181.7 1059L1186.6 1064L1186.6 1069.9L1181.2 1069.9L1176.3 1065ZM1181.2 1064L1240.1 1064L1240.1 1069.9L1181.2 1069.9ZM1234.7 1064L1240.1 1064L1244.9 1068.8L1244.9 1074.8L1239.5 1074.8L1234.7 1069.9ZM1239.5 1068.8L1279 1068.8L1279 1074.8L1239.5 1074.8ZM1273.6 1068.8L1279 1068.8L1283.8 1073.8L1283.8 1079.7L1278.4 1079.7L1273.6 1074.8ZM1278.4 1073.8L1313 1073.8L1313 1079.7L1278.4 1079.7ZM1307.6 1073.8L1313 1073.8L1317.9 1078.5L1317.9 1084.5L1312.5 1084.5L1307.6 1079.7ZM1312.5 1078.5L1347.1 1078.5L1347.1 1084.5L1312.5 1084.5ZM1341.7 1078.5L1347.1 1078.5L1351.9 1083.5L1351.9 1089.4L1346.5 1089.4L1341.7 1084.5ZM1346.5 1083.5L1376.2 1083.5L1376.2 1089.4L1346.5 1089.4ZM1370.8 1083.5L1376.2 1083.5L1381.1 1088.3L1381.1 1094.2L1375.7 1094.2L1370.8 1089.4ZM1375.7 1088.3L1405.4 1088.3L1405.4 1094.2L1375.7 1094.2ZM1400 1088.3L1405.4 1088.3L1410.3 1093.1L1410.3 1099L1404.9 1099L1400 1094.2ZM1404.9 1093.1L1444.3 1093.1L1444.3 1099L1404.9 1099ZM1438.9 1093.1L1444.3 1093.1L1449.2 1098L1449.2 1104L1443.8 1104L1438.9 1099ZM1443.8 1098L1483.2 1098L1483.2 1104L1443.8 1104ZM1477.8 1098L1483.2 1098L1488.1 1103L1488.1 1108.9L1482.7 1108.9L1477.8 1104ZM1482.7 1103L1512.4 1103L1512.4 1108.9L1482.7 1108.9ZM1507 1103L1512.4 1103L1517.3 1107.8L1517.3 1113.7L1511.9 1113.7L1507 1108.9ZM1511.9 1107.8L1536.7 1107.8L1536.7 1113.7L1511.9 1113.7ZM1531.3 1107.8L1536.7 1107.8L1541.6 1112.6L1541.6 1118.5L1536.2 1118.5L1531.3 1113.7ZM1536.2 1112.6L1575.6 1112.6L1575.6 1118.5L1536.2 1118.5ZM1570.2 1112.6L1575.6 1112.6L1580.5 1117.5L1580.5 1123.5L1575.1 1123.5L1570.2 1118.5ZM1575.1 1117.5L1604.8 1117.5L1604.8 1123.5L1575.1 1123.5ZM1599.4 1117.5L1604.8 1117.5L1609.7 1122.5L1609.7 1128.4L1604.3 1128.4L1599.4 1123.5ZM1604.3 1122.5L1629.1 1122.5L1629.1 1128.4L1604.3 1128.4ZM1623.7 1122.5L1629.1 1122.5L1634 1127.2L1634 1133.2L1628.6 1133.2L1623.7 1128.4ZM1628.6 1127.2L1663.1 1127.2L1663.1 1133.2L1628.6 1133.2ZM1657.7 1127.2L1663.1 1127.2L1668 1132.1L1668 1138L1662.6 1138L1657.7 1133.2ZM1662.6 1132.1L1672.9 1132.1L1672.9 1138L1662.6 1138ZM1667.5 1132.1L1672.9 1132.1L1677.7 1137L1677.7 1143L1672.3 1143L1667.5 1138ZM1672.3 1137L1682.6 1137L1682.6 1143L1672.3 1143Z" fill="#f00"/>
<g fill="#f00">
<ellipse cx="221" cy="238.3" rx="22" ry="22"/>
<ellipse cx="293.8" cy="295.9" rx="22.2" ry="22"/>
<ellipse cx="366.6" cy="501" rx="22.4" ry="22"/>
<ellipse cx="439.5" cy="694" rx="22.4" ry="20.2"/>
<ellipse cx="512.9" cy="730.3" rx="22" ry="22"/>
<ellipse cx="585.4" cy="911" rx="22.3" ry="22"/>
<ellipse cx="658.4" cy="959.2" rx="22.3" ry="22"/>
<ellipse cx="731.6" cy="998" rx="22.2" ry="22"/>
<ellipse cx="804.2" cy="1047" rx="22.2" ry="22"/>
<ellipse cx="877.5" cy="1036.7" rx="21.6" ry="22"/>
<ellipse cx="950.5" cy="1051.7" rx="22.4" ry="22.3"/>
<ellipse cx="1096.2" cy="1056.4" rx="22" ry="22.5"/>
<ellipse cx="1242.1" cy="1071" rx="22" ry="22"/>
<ellipse cx="1388.4" cy="1090.4" rx="22" ry="22.3"/>
<ellipse cx="1533.5" cy="1115" rx="21.8" ry="22.2"/>
<ellipse cx="1679.4" cy="1139.6" rx="22.6" ry="22.3"/>
</g>
<path d="M218.3 235.9L223.7 235.9L223.7 246.6L218.3 246.6ZM218.3 240.8L223.7 240.8L228.6 245.7L228.6 251.5L223.2 251.5L218.3 246.6ZM223.2 245.7L228.6 245.7L228.6 266.1L223.2 266.1ZM223.2 260.2L228.6 260.2L233.4 265.2L233.4 271.1L228 271.1L223.2 266.1ZM228 265.2L233.4 265.2L233.4 280.8L228 280.8ZM228 274.9L233.4 274.9L238.3 279.8L238.3 285.6L232.9 285.6L228 280.8ZM232.9 279.8L238.3 279.8L238.3 290.6L232.9 290.6ZM232.9 284.7L238.3 284.7L243.2 289.4L243.2 295.3L237.8 295.3L232.9 290.6ZM237.8 289.4L243.2 289.4L243.2 309.9L237.8 309.9ZM237.8 304.1L243.2 304.1L248 308.9L248 314.8L242.6 314.8L237.8 309.9ZM242.6 308.9L248 308.9L248 324.6L242.6 324.6ZM242.6 318.7L248 318.7L252.9 323.6L252.9 329.4L247.5 329.4L242.6 324.6ZM247.5 323.6L252.9 323.6L252.9 334.3L247.5 334.3ZM247.5 328.4L252.9 328.4L257.7 333.4L257.7 339.2L252.3 339.2L247.5 334.3ZM252.3 333.4L257.7 333.4L257.7 348.9L252.3 348.9ZM252.3 343.1L257.7 343.1L262.6 347.9L262.6 353.8L257.2 353.8L252.3 348.9ZM257.2 347.9L262.6 347.9L262.6 363.6L257.2 363.6ZM257.2 357.7L262.6 357.7L267.5 362.6L267.5 368.4L262.1 368.4L257.2 363.6ZM262.1 362.6L267.5 362.6L267.5 378.1L262.1 378.1ZM262.1 372.2L267.5 372.2L272.3 377.2L272.3 383.1L266.9 383.1L262.1 378.1ZM266.9 377.2L272.3 377.2L272.3 392.8L266.9 392.8ZM266.9 386.9L272.3 386.9L277.2 391.8L277.2 397.6L271.8 397.6L266.9 392.8ZM271.8 391.8L277.2 391.8L277.2 407.4L271.8 407.4ZM271.8 401.6L277.2 401.6L282.1 406.4L282.1 412.2L276.7 412.2L271.8 407.4ZM276.7 406.4L282.1 406.4L282.1 417.1L276.7 417.1ZM276.7 411.2L282.1 411.2L286.9 416.2L286.9 422.1L281.5 422.1L276.7 417.1ZM281.5 416.2L286.9 416.2L286.9 426.8L281.5 426.8ZM281.5 420.9L286.9 420.9L291.8 425.9L291.8 431.8L286.4 431.8L281.5 426.8ZM286.4 425.9L291.8 425.9L291.8 441.6L286.4 441.6ZM286.4 435.7L291.8 435.7L296.6 440.4L296.6 446.3L291.2 446.3L286.4 441.6ZM291.2 440.4L296.6 440.4L296.6 456.1L291.2 456.1ZM291.2 450.2L296.6 450.2L301.5 455.1L301.5 460.9L296.1 460.9L291.2 456.1ZM296.1 455.1L301.5 455.1L301.5 470.8L296.1 470.8ZM296.1 464.9L301.5 464.9L306.4 469.7L306.4 475.6L301 475.6L296.1 470.8ZM301 469.7L306.4 469.7L311.2 474.6L311.2 480.4L305.8 480.4L301 475.6ZM305.8 474.6L311.2 474.6L311.2 485.3L305.8 485.3ZM305.8 479.4L311.2 479.4L316.1 484.4L316.1 490.2L310.7 490.2L305.8 485.3ZM310.7 484.4L316.1 484.4L321 489.2L321 495.1L315.6 495.1L310.7 490.2ZM315.6 489.2L321 489.2L321 499.9L315.6 499.9ZM315.6 494.1L321 494.1L325.8 498.9L325.8 504.8L320.4 504.8L315.6 499.9ZM320.4 498.9L325.8 498.9L325.8 509.6L320.4 509.6ZM320.4 503.8L325.8 503.8L330.7 508.7L330.7 514.6L325.3 514.6L320.4 509.6ZM325.3 508.7L330.7 508.7L330.7 519.5L325.3 519.5ZM325.3 513.5L330.7 513.5L335.5 518.4L335.5 524.4L330.1 524.4L325.3 519.5ZM330.1 518.4L335.5 518.4L340.4 523.2L340.4 529.2L335 529.2L330.1 524.4ZM335 523.2L340.4 523.2L340.4 534.1L335 534.1ZM335 528.1L340.4 528.1L355 542.8L355 548.7L349.6 548.7L335 534.1ZM349.6 542.8L355 542.8L355 553.6L349.6 553.6ZM349.6 547.6L355 547.6L384.2 576.8L384.2 582.8L378.8 582.8L349.6 553.6ZM378.8 576.8L384.2 576.8L389 581.8L389 587.7L383.6 587.7L378.8 582.8ZM383.6 581.8L389 581.8L389 592.6L383.6 592.6ZM383.6 586.6L389 586.6L393.9 591.4L393.9 597.4L388.5 597.4L383.6 592.6ZM388.5 591.4L393.9 591.4L398.8 596.3L398.8 602.2L393.4 602.2L388.5 597.4ZM393.4 596.3L398.8 596.3L403.6 601.2L403.6 607.2L398.2 607.2L393.4 602.2ZM398.2 601.2L403.6 601.2L408.5 606L408.5 612L403.1 612L398.2 607.2ZM403.1 606L413.4 606L413.4 612L403.1 612ZM408 606L413.4 606L418.2 610.9L418.2 616.9L412.8 616.9L408 612ZM412.8 610.9L418.2 610.9L437.7 630.4L437.7 636.4L432.3 636.4L412.8 616.9ZM432.3 630.4L437.7 630.4L442.5 635.3L442.5 641.2L437.1 641.2L432.3 636.4ZM437.1 635.3L442.5 635.3L442.5 646.1L437.1 646.1ZM437.1 640.1L442.5 640.1L466.9 664.5L466.9 670.5L461.5 670.5L437.1 646.1ZM461.5 664.5L466.9 664.5L471.7 669.4L471.7 675.4L466.3 675.4L461.5 670.5ZM466.3 669.4L471.7 669.4L476.6 674.2L476.6 680.2L471.2 680.2L466.3 675.4ZM471.2 674.2L476.6 674.2L481.4 679.1L481.4 685.1L476 685.1L471.2 680.2ZM476 679.1L481.4 679.1L486.3 684L486.3 690L480.9 690L476 685.1ZM480.9 684L486.3 684L486.3 694.8L480.9 694.8ZM480.9 688.8L486.3 688.8L491.2 693.8L491.2 699.7L485.8 699.7L480.9 694.8ZM485.8 693.8L491.2 693.8L496 698.6L496 704.6L490.6 704.6L485.8 699.7ZM490.6 698.6L496 698.6L500.9 703.5L500.9 709.5L495.5 709.5L490.6 704.6ZM495.5 703.5L500.9 703.5L505.8 708.3L505.8 714.2L500.4 714.2L495.5 709.5ZM500.4 708.3L505.8 708.3L510.6 713.2L510.6 719.2L505.2 719.2L500.4 714.2ZM505.2 713.2L510.6 713.2L530.1 732.8L530.1 738.7L524.7 738.7L505.2 719.2ZM524.7 732.8L534.9 732.8L534.9 738.7L524.7 738.7ZM529.5 732.8L534.9 732.8L539.8 737.6L539.8 743.6L534.4 743.6L529.5 738.7ZM534.4 737.6L539.8 737.6L544.7 742.4L544.7 748.4L539.3 748.4L534.4 743.6ZM539.3 742.4L544.7 742.4L549.5 747.3L549.5 753.2L544.1 753.2L539.3 748.4ZM544.1 747.3L549.5 747.3L554.4 752.2L554.4 758.2L549 758.2L544.1 753.2ZM549 752.2L559.2 752.2L559.2 758.2L549 758.2ZM553.8 752.2L559.2 752.2L564.1 757L564.1 763L558.7 763L553.8 758.2ZM558.7 757L564.1 757L569 761.9L569 767.9L563.6 767.9L558.7 763ZM563.6 761.9L573.8 761.9L573.8 767.9L563.6 767.9ZM568.4 761.9L573.8 761.9L583.6 771.8L583.6 777.7L578.2 777.7L568.4 767.9ZM578.2 771.8L588.4 771.8L588.4 777.7L578.2 777.7ZM583 771.8L588.4 771.8L593.3 776.5L593.3 782.5L587.9 782.5L583 777.7ZM587.9 776.5L603 776.5L603 782.5L587.9 782.5ZM597.6 776.5L603 776.5L607.9 781.4L607.9 787.4L602.5 787.4L597.6 782.5ZM602.5 781.4L612.7 781.4L612.7 787.4L602.5 787.4ZM607.3 781.4L612.7 781.4L617.6 786.3L617.6 792.2L612.2 792.2L607.3 787.4ZM612.2 786.3L622.5 786.3L622.5 792.2L612.2 792.2ZM617.1 786.3L622.5 786.3L627.3 791.1L627.3 797.1L621.9 797.1L617.1 792.2ZM621.9 791.1L637.1 791.1L637.1 797.1L621.9 797.1ZM631.7 791.1L637.1 791.1L641.9 796L641.9 802L636.5 802L631.7 797.1ZM636.5 796L646.8 796L646.8 802L636.5 802ZM641.4 796L646.8 796L651.6 800.9L651.6 806.9L646.2 806.9L641.4 802ZM646.2 800.9L676 800.9L676 806.9L646.2 806.9ZM670.6 800.9L676 800.9L680.8 805.8L680.8 811.7L675.4 811.7L670.6 806.9ZM675.4 805.8L685.7 805.8L685.7 811.7L675.4 811.7ZM680.3 805.8L685.7 805.8L690.5 810.6L690.5 816.6L685.1 816.6L680.3 811.7ZM685.1 810.6L705.1 810.6L705.1 816.6L685.1 816.6ZM699.7 810.6L705.1 810.6L710 815.5L710 821.5L704.6 821.5L699.7 816.6ZM704.6 815.5L724.6 815.5L724.6 821.5L704.6 821.5ZM719.2 815.5L724.6 815.5L729.5 820.4L729.5 826.4L724.1 826.4L719.2 821.5ZM724.1 820.4L739.2 820.4L739.2 826.4L724.1 826.4ZM733.8 820.4L739.2 820.4L744 825.2L744 831.2L738.6 831.2L733.8 826.4ZM738.6 825.2L748.9 825.2L748.9 831.2L738.6 831.2ZM743.5 825.2L748.9 825.2L753.8 830.1L753.8 836.1L748.4 836.1L743.5 831.2ZM748.4 830.1L758.6 830.1L758.6 836.1L748.4 836.1ZM753.2 830.1L758.6 830.1L763.5 835L763.5 841L758.1 841L753.2 836.1ZM758.1 835L768.4 835L768.4 841L758.1 841ZM763 835L768.4 835L773.2 839.8L773.2 845.8L767.8 845.8L763 841ZM767.8 839.8L778.1 839.8L778.1 845.8L767.8 845.8ZM772.7 839.8L778.1 839.8L782.9 844.8L782.9 850.7L777.5 850.7L772.7 845.8ZM777.5 844.8L792.7 844.8L792.7 850.7L777.5 850.7ZM787.3 844.8L792.7 844.8L797.5 849.6L797.5 855.6L792.1 855.6L787.3 850.7ZM792.1 849.6L807.3 849.6L807.3 855.6L792.1 855.6ZM801.9 849.6L807.3 849.6L812.1 854.5L812.1 860.5L806.7 860.5L801.9 855.6ZM806.7 854.5L831.6 854.5L831.6 860.5L806.7 860.5ZM826.2 854.5L831.6 854.5L836.4 859.3L836.4 865.2L831 865.2L826.2 860.5ZM831 859.3L875.3 859.3L875.3 865.2L831 865.2ZM869.9 859.3L875.3 859.3L880.2 864.2L880.2 870.2L874.8 870.2L869.9 865.2ZM874.8 864.2L924 864.2L924 870.2L874.8 870.2ZM918.6 864.2L924 864.2L928.8 869.1L928.8 875.1L923.4 875.1L918.6 870.2ZM923.4 869.1L958 869.1L958 875.1L923.4 875.1ZM952.6 869.1L958 869.1L962.9 873.9L962.9 879.9L957.5 879.9L952.6 875.1ZM957.5 873.9L987.2 873.9L987.2 879.9L957.5 879.9ZM981.8 873.9L987.2 873.9L992.1 878.8L992.1 884.8L986.7 884.8L981.8 879.9ZM986.7 878.8L1016.4 878.8L1016.4 884.8L986.7 884.8ZM1011 878.8L1016.4 878.8L1021.2 883.8L1021.2 889.7L1015.8 889.7L1011 884.8ZM1015.8 883.8L1050.4 883.8L1050.4 889.7L1015.8 889.7ZM1045 883.8L1050.4 883.8L1055.3 888.6L1055.3 894.6L1049.9 894.6L1045 889.7ZM1049.9 888.6L1099 888.6L1099 894.6L1049.9 894.6ZM1093.6 888.6L1099 888.6L1103.9 893.4L1103.9 899.4L1098.5 899.4L1093.6 894.6ZM1098.5 893.4L1152.5 893.4L1152.5 899.4L1098.5 899.4ZM1147.1 893.4L1152.5 893.4L1157.4 898.3L1157.4 904.2L1152 904.2L1147.1 899.4ZM1152 898.3L1244.9 898.3L1244.9 904.2L1152 904.2ZM1239.5 898.3L1244.9 898.3L1249.8 903.2L1249.8 909.2L1244.4 909.2L1239.5 904.2ZM1244.4 903.2L1288.7 903.2L1288.7 909.2L1244.4 909.2ZM1283.3 903.2L1288.7 903.2L1293.6 908L1293.6 914L1288.2 914L1283.3 909.2ZM1288.2 908L1327.6 908L1327.6 914L1288.2 914ZM1322.2 908L1327.6 908L1332.5 912.9L1332.5 918.9L1327.1 918.9L1322.2 914ZM1327.1 912.9L1386 912.9L1386 918.9L1327.1 918.9ZM1380.6 912.9L1386 912.9L1390.8 917.8L1390.8 923.8L1385.4 923.8L1380.6 918.9ZM1385.4 917.8L1410.3 917.8L1410.3 923.8L1385.4 923.8ZM1404.9 917.8L1410.3 917.8L1415.1 922.8L1415.1 928.7L1409.7 928.7L1404.9 923.8ZM1409.7 922.8L1449.2 922.8L1449.2 928.7L1409.7 928.7ZM1443.8 922.8L1449.2 922.8L1454 927.5L1454 933.5L1448.6 933.5L1443.8 928.7ZM1448.6 927.5L1478.4 927.5L1478.4 933.5L1448.6 933.5ZM1473 927.5L1478.4 927.5L1483.2 932.4L1483.2 938.4L1477.8 938.4L1473 933.5ZM1477.8 932.4L1512.4 932.4L1512.4 938.4L1477.8 938.4ZM1507 932.4L1512.4 932.4L1517.3 937.3L1517.3 943.2L1511.9 943.2L1507 938.4ZM1511.9 937.3L1536.7 937.3L1536.7 943.2L1511.9 943.2ZM1531.3 937.3L1536.7 937.3L1541.6 942.1L1541.6 948.1L1536.2 948.1L1531.3 943.2ZM1536.2 942.1L1556.2 942.1L1556.2 948.1L1536.2 948.1ZM1550.8 942.1L1556.2 942.1L1561 947L1561 953L1555.6 953L1550.8 948.1ZM1555.6 947L1580.5 947L1580.5 953L1555.6 953ZM1575.1 947L1580.5 947L1585.3 951.9L1585.3 957.9L1579.9 957.9L1575.1 953ZM1579.9 951.9L1604.8 951.9L1604.8 957.9L1579.9 957.9ZM1599.4 951.9L1604.8 951.9L1609.7 956.8L1609.7 962.7L1604.3 962.7L1599.4 957.9ZM1604.3 956.8L1624.2 956.8L1624.2 962.7L1604.3 962.7ZM1618.8 956.8L1624.2 956.8L1629.1 961.6L1629.1 967.6L1623.7 967.6L1618.8 962.7ZM1623.7 961.6L1643.7 961.6L1643.7 967.6L1623.7 967.6ZM1638.3 961.6L1643.7 961.6L1648.6 966.5L1648.6 972.5L1643.2 972.5L1638.3 967.6ZM1643.2 966.5L1658.3 966.5L1658.3 972.5L1643.2 972.5ZM1652.9 966.5L1658.3 966.5L1663.1 971.4L1663.1 977.4L1657.7 977.4L1652.9 972.5ZM1657.7 971.4L1672.9 971.4L1672.9 977.4L1657.7 977.4ZM1667.5 971.4L1672.9 971.4L1677.7 976.2L1677.7 982.2L1672.3 982.2L1667.5 977.4Z" fill="#00f"/>
<g fill="#00f">
<polygon points="198,246.4 218.2,211 222.8,211 243,246.4 243,251 198,251"/>
<polygon points="272,474.8 291.2,442 295.8,442 316,474.8 316,479.4 272,479.4"/>
<polygon points="345,577 364.7,543 369.3,543 389,577 389,581.6 345,581.6"/>
<polygon points="418,650.4 437.7,616 442.3,616 462,650.4 462,655 418,655"/>
<polygon points="490.8,737.8 510.5,698.3 515.1,698.3 534.7,737.8 534.7,742.4 490.8,742.4"/>
<polygon points="558.9,787.4 583.9,752 588.5,752 607.3,787.4 607.3,792 558.9,792"/>
<polygon points="632,816.1 656.4,781 661,781 680.7,816.1 680.7,820.7 632,820.7"/>
<polygon points="705,831 729.3,796 733.9,796 753.6,831 753.6,835.6 705,835.6"/>
<polygon points="778,870 802.3,835 806.9,835 825.8,870 825.8,874.6 778,874.6"/>
<polygon points="850.9,875.1 874.9,840 879.5,840 898.7,875.1 898.7,879.7 850.9,879.7"/>
<polygon points="923.8,880.1 947.9,844 952.5,844 971.7,880.1 971.7,884.7 923.8,884.7"/>
<polygon points="1069.1,908.9 1088.7,874.3 1093.3,874.3 1112.9,908.9 1112.9,913.5 1069.1,913.5"/>
<polygon points="1214.9,909.1 1234.9,874 1239.5,874 1259,909.1 1259,913.7 1214.9,913.7"/>
<polygon points="1360.8,928.4 1380.8,893 1385.4,893 1405.2,928.4 1405.2,933 1360.8,933"/>
<polygon points="1506.6,948.4 1527.2,913 1531.8,913 1551.1,948.4 1551.1,953 1506.6,953"/>
<polygon points="1652.8,987 1672.2,952 1676.8,952 1697.1,987 1697.1,991.6 1652.8,991.6"/>
</g>
</g>
<g stroke-width="6" stroke-linecap="round">
<line x1="1213" y1="156" x2="1349" y2="156" stroke="#00f"/>
<line x1="1213" y1="233" x2="1349" y2="233" stroke="#f00"/>
<line x1="1213" y1="310.5" x2="1349" y2="310.5" stroke="#000"/>
</g>
<polygon points="1259.1,168 1278.7,133.2 1283.3,133.2 1302.7,168 1302.7,172.6 1259.1,172.6" fill="#00f" shape-rendering="crispEdges"/>
<ellipse cx="1283.5" cy="235.4" rx="19.7" ry="19.5" fill="#f00"/>
<rect x="1264" y="294" width="39" height="39" fill="#000" shape-rendering="crispEdges"/>
<g class="lg">
<text x="1363" y="179">EHR-LG</text>
<text x="1363" y="253">CM-LG</text>
<text x="1363" y="331">AL-LG</text>
</g>
</svg></body></html>
